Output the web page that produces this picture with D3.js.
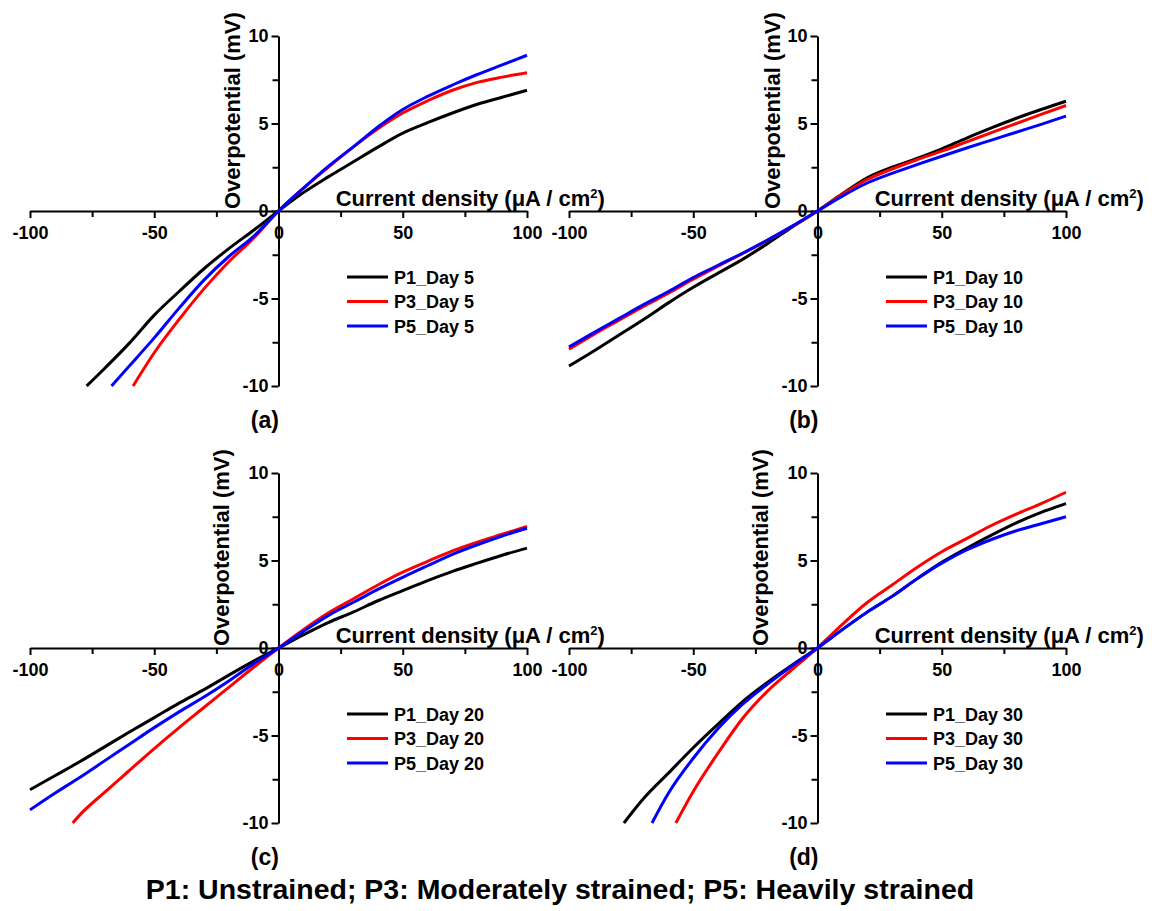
<!DOCTYPE html>
<html lang="en">
<head>
<meta charset="UTF-8">
<script src="https://d3js.org/d3.v7.min.js"></script>
<title>Overpotential vs current density</title>
</head>
<body style="margin:0;background:#fff">
<style>
text { font-family: "Liberation Sans", Arial, sans-serif; font-weight: bold; fill: #000; }
.axis text { font-size: 18px; }
.axis path, .axis line { stroke: #000; stroke-width: 2px; }
</style>
<script>

// current density grid (uA/cm2) shared by every curve
var currentGrid = [-100, -90, -80, -70, -60, -50, -40, -30, -20, -10, 0, 10, 20, 30, 40, 50, 60, 70, 80, 90, 100];

var seriesNames = ["P1", "P3", "P5"];
var seriesColors = ["#000000", "#ff0000", "#0000ff"];
var panelLabels = ["(a)", "(b)", "(c)", "(d)"];
var panelDays = [5, 10, 20, 30];

// overpotential (mV), null where the curve is below -10
var day5P1 = [null, null, null, -9.0, -7.55, -5.95, -4.6, -3.3, -2.15, -1.1, 0, 1.05, 1.95, 2.8, 3.65, 4.45, 5.05, 5.6, 6.1, 6.5, 6.9];
var day5P3 = [null, null, null, null, null, -8.1, -6.2, -4.45, -2.9, -1.55, 0, 1.3, 2.5, 3.65, 4.7, 5.6, 6.3, 6.9, 7.35, 7.65, 7.9];
var day5P5 = [null, null, null, null, -8.85, -7.25, -5.55, -3.95, -2.6, -1.45, 0, 1.3, 2.55, 3.65, 4.8, 5.8, 6.55, 7.2, 7.8, 8.35, 8.9];

var day10P1 = [-8.86, -8.0, -7.1, -6.2, -5.25, -4.36, -3.55, -2.75, -1.85, -0.9, 0, 0.98, 1.9, 2.5, 3.0, 3.55, 4.17, 4.75, 5.3, 5.8, 6.27];
var day10P3 = [-7.9, -7.05, -6.25, -5.45, -4.7, -3.9, -3.15, -2.42, -1.67, -0.87, 0, 0.95, 1.8, 2.4, 2.93, 3.42, 3.95, 4.48, 5.0, 5.52, 6.03];
var day10P5 = [-7.77, -6.95, -6.15, -5.35, -4.6, -3.8, -3.1, -2.4, -1.65, -0.85, 0, 0.85, 1.6, 2.15, 2.65, 3.13, 3.6, 4.05, 4.5, 4.95, 5.42];

var day20P1 = [-8.1, -7.3, -6.5, -5.65, -4.8, -3.98, -3.15, -2.38, -1.55, -0.75, 0, 0.75, 1.45, 2.05, 2.7, 3.28, 3.85, 4.38, 4.85, 5.3, 5.71];
var day20P3 = [null, null, -9.55, -8.25, -7.0, -5.75, -4.55, -3.4, -2.25, -1.1, 0, 1.05, 2.0, 2.8, 3.6, 4.33, 4.95, 5.55, 6.05, 6.5, 6.95];
var day20P5 = [-9.25, -8.3, -7.4, -6.45, -5.5, -4.55, -3.65, -2.8, -1.88, -0.9, 0, 0.95, 1.85, 2.6, 3.35, 4.04, 4.7, 5.35, 5.9, 6.4, 6.84];

var day30P1 = [null, null, null, -8.6, -7.15, -5.7, -4.35, -3.05, -1.95, -0.95, 0, 1.05, 2.05, 2.95, 3.95, 4.9, 5.7, 6.45, 7.15, 7.75, 8.25];
var day30P3 = [null, null, null, null, null, -8.2, -6.0, -4.0, -2.45, -1.2, 0, 1.35, 2.6, 3.6, 4.6, 5.5, 6.25, 7.0, 7.65, 8.25, 8.9];
var day30P5 = [null, null, null, null, -8.3, -6.3, -4.6, -3.2, -2.05, -1.0, 0, 1.05, 2.05, 2.95, 3.95, 4.85, 5.6, 6.2, 6.7, 7.1, 7.5];

// current density where each curve leaves the plot at -10 mV (P1, P3, P5)
var day5Exit = [-77.2, -58.5, -67.2];
var day10Exit = [null, null, null];
var day20Exit = [null, -82.8, null];
var day30Exit = [-77.9, -57, -66.6];

var panelSeries = [
  [day5P1, day5P3, day5P5],
  [day10P1, day10P3, day10P5],
  [day20P1, day20P3, day20P5],
  [day30P1, day30P3, day30P5]
];
var panelExits = [day5Exit, day10Exit, day20Exit, day30Exit];

var xMajor = [-100, -50, 0, 50, 100];
var xMinor = [-75, -25, 25, 75];
var yMajor = [-10, -5, 0, 5, 10];
var yMinor = [-7.5, -2.5, 2.5, 7.5];

var width = 1152, height = 911;

var svg = d3.select("body").append("svg")
    .attr("width", width)
    .attr("height", height);

// panel placement
var panelLeft = [30, 569, 30, 569];
var panelTop = [36, 36, 473, 473];
var yTitleOffset = [-38.5, -37.5, -49.5, -49.5];
var plotW = 497, plotH = 350;

// plain hyphen for negatives, as in the original figure
var plain = function(d) { return String(d); };

panelSeries.forEach(function(series, p) {
  var x = d3.scaleLinear().domain([-100, 100]).range([panelLeft[p], panelLeft[p] + plotW]);
  var y = d3.scaleLinear().domain([-10, 10]).range([panelTop[p] + plotH, panelTop[p]]);
  var g = svg.append("g");

  // minor ticks
  g.append("g").attr("class", "axis")
      .attr("transform", "translate(0," + y(0) + ")")
      .call(d3.axisBottom(x).tickValues(xMinor).tickSize(6).tickSizeOuter(0).tickFormat(""))
      .select(".domain").remove();
  g.append("g").attr("class", "axis")
      .attr("transform", "translate(" + x(0) + ",0)")
      .call(d3.axisLeft(y).tickValues(yMinor).tickSize(6).tickSizeOuter(0).tickFormat(""))
      .select(".domain").remove();

  // major ticks
  g.append("g").attr("class", "axis")
      .attr("transform", "translate(0," + y(0) + ")")
      .call(d3.axisBottom(x).tickValues(xMajor).tickSize(7).tickSizeOuter(0).tickPadding(8).tickFormat(plain));
  g.append("g").attr("class", "axis")
      .attr("transform", "translate(" + x(0) + ",0)")
      .call(d3.axisLeft(y).tickValues(yMajor).tickSize(7).tickSizeOuter(0).tickPadding(3).tickFormat(plain));

  g.selectAll(".axis text").attr("fill", "#000");

  // curves
  var line = d3.line()
      .defined(function(d) { return d[1] != null; })
      .x(function(d) { return x(d[0]); })
      .y(function(d) { return y(d[1]); })
      .curve(d3.curveMonotoneX);

  series.forEach(function(vals, s) {
    var pts = currentGrid.map(function(c, i) { return [c, vals[i]]; })
        .filter(function(d) { return d[1] != null; });
    var ex = panelExits[p][s];
    if (ex != null) pts.unshift([ex, -10]);
    g.append("path")
        .datum(pts)
        .attr("fill", "none")
        .attr("stroke", seriesColors[s])
        .attr("stroke-width", 3)
        .attr("stroke-linejoin", "round")
        .attr("d", line);
  });

  // axis titles
  var xt = g.append("text")
      .attr("x", x(23))
      .attr("y", y(0) - 5.5)
      .style("font-size", "22px")
      .text("Current density (\u03bcA / cm");
  xt.append("tspan").attr("dy", -8).style("font-size", "13px").text("2");
  xt.append("tspan").attr("dy", 8).text(")");

  g.append("text")
      .attr("transform", "translate(" + (x(0) + yTitleOffset[p]) + "," + (y(0) - 2) + ") rotate(-90)")
      .style("font-size", "22px")
      .text("Overpotential (mV)");

  // legend
  seriesNames.forEach(function(name, s) {
    var ly = panelTop[p] + 241 + s * 24.5;
    g.append("line")
        .attr("x1", panelLeft[p] + 317).attr("x2", panelLeft[p] + 358)
        .attr("y1", ly).attr("y2", ly)
        .attr("stroke", seriesColors[s]).attr("stroke-width", 3);
    g.append("text")
        .attr("x", panelLeft[p] + 364)
        .attr("y", ly + 6.5)
        .style("font-size", "18px")
        .text(name + "_Day " + panelDays[p]);
  });

  // panel label
  g.append("text")
      .attr("x", x(-5.5))
      .attr("y", panelTop[p] + 392)
      .attr("text-anchor", "middle")
      .style("font-size", "23px")
      .text(panelLabels[p]);
});

svg.append("text")
    .attr("x", 560)
    .attr("y", 899)
    .attr("text-anchor", "middle")
    .style("font-size", "28.5px")
    .text("P1: Unstrained; P3: Moderately strained; P5: Heavily strained");

</script>
</body>
</html>
